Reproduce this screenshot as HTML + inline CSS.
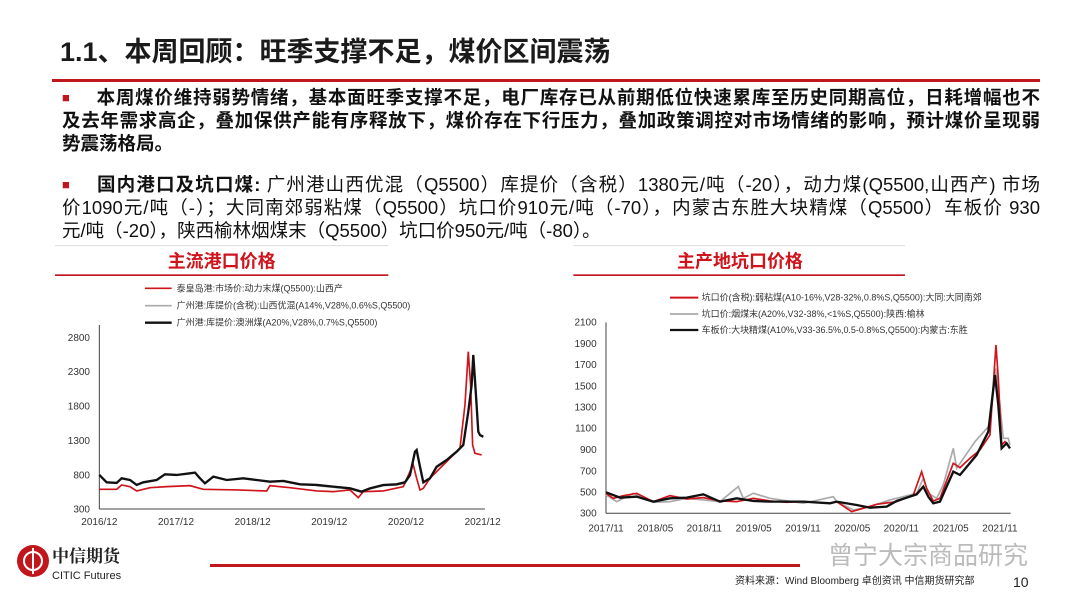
<!DOCTYPE html>
<html><head><meta charset="utf-8"><style>
body{margin:0;width:1080px;height:608px;background:#fff;position:relative;overflow:hidden;font-family:"Liberation Sans","Noto Sans CJK SC",sans-serif;}
.t{position:absolute;left:60px;top:30px;font-size:27px;font-weight:bold;color:#1a1a1a;}
.hl{position:absolute;left:52px;top:79px;width:988px;height:3px;background:#c0171d;}
.l{position:absolute;left:62px;width:978px;font-size:18.5px;line-height:23px;color:#111;white-space:nowrap;text-align:justify;text-align-last:justify;}
.s{text-align-last:left;}
.bd{font-weight:bold;}
.b{color:#c0171d;font-size:13px;margin-right:26px;position:relative;top:-2px;}
</style></head><body>
<div class="t">1.1、本周回顾：旺季支撑不足，煤价区间震荡</div>
<div class="hl"></div>
<div class="l bd" style="top:86px"><span class="b">■</span>本周煤价维持弱势情绪，基本面旺季支撑不足，电厂库存已从前期低位快速累库至历史同期高位，日耗增幅也不</div>
<div class="l bd" style="top:109px">及去年需求高企，叠加保供产能有序释放下，煤价存在下行压力，叠加政策调控对市场情绪的影响，预计煤价呈现弱</div>
<div class="l bd s" style="top:132px">势震荡格局。</div>
<div class="l" style="top:173px"><span class="b">■</span><b>国内港口及坑口煤:</b> 广州港山西优混（Q5500）库提价（含税）1380元/吨（-20），动力煤(Q5500,山西产) 市场</div>
<div class="l" style="top:196px">价1090元/吨（-）；大同南郊弱粘煤（Q5500）坑口价910元/吨（-70），内蒙古东胜大块精煤（Q5500）车板价 930</div>
<div class="l s" style="top:219px">元/吨（-20），陕西榆林烟煤末（Q5500）坑口价950元/吨（-80）。</div>
<svg width="1080" height="608" style="position:absolute;left:0;top:0" font-family="Liberation Sans, Noto Sans CJK SC, sans-serif">
<g transform="translate(50,245) scale(0.3333)">
<line x1="15" y1="2" x2="1015" y2="2" stroke="#ddd" stroke-width="3"/>
<text x="515" y="68" text-anchor="middle" font-size="54" font-weight="bold" fill="#d0141c">主流港口价格</text>
<rect x="15" y="88" width="1000" height="5" fill="#c0171d"/>
<g font-size="27" fill="#333">
<line x1="285" y1="130" x2="365" y2="130" stroke="#d0141c" stroke-width="5"/><text x="380" y="139">泰皇岛港:市场价:动力末煤(Q5500):山西产</text>
<line x1="285" y1="182" x2="365" y2="182" stroke="#aaa" stroke-width="5"/><text x="380" y="191">广州港:库提价(含税):山西优混(A14%,V28%,0.6%S,Q5500)</text>
<line x1="285" y1="233" x2="365" y2="233" stroke="#111" stroke-width="7"/><text x="380" y="242">广州港:库提价:澳洲煤(A20%,V28%,0.7%S,Q5500)</text>
</g>
<line x1="148" y1="240" x2="148" y2="792" stroke="#444" stroke-width="3"/>
<line x1="148" y1="792" x2="1305" y2="792" stroke="#444" stroke-width="3"/>
<g font-size="30" fill="#333" text-anchor="end">
<text x="120" y="288">2800</text><text x="120" y="390">2300</text><text x="120" y="493">1800</text><text x="120" y="597">1300</text><text x="120" y="700">800</text><text x="120" y="802">300</text></g>
<g font-size="30" fill="#333" text-anchor="middle">
<text x="148" y="840">2016/12</text><text x="378" y="840">2017/12</text><text x="608" y="840">2018/12</text><text x="838" y="840">2019/12</text><text x="1068" y="840">2020/12</text><text x="1298" y="840">2021/12</text></g>
<polyline fill="none" stroke="#aaa" stroke-width="5" points="800,722 850,727 900,732 935,742 960,732 1000,722 1040,720 1065,714 1080,693 1095,625 1100,620 1110,668 1120,714 1140,702 1160,668 1190,648 1220,622 1240,602 1255,505 1265,425 1270,340 1278,455 1285,562 1290,572 1300,577"/>
<polyline fill="none" stroke="#d0141c" stroke-width="5" points="148,733 200,733 215,720 240,725 260,738 300,728 350,725 420,722 460,733 560,735 650,738 660,722 720,728 800,738 850,740 900,735 925,758 940,740 1000,738 1060,725 1080,680 1090,660 1100,700 1110,735 1120,730 1140,700 1190,650 1230,610 1245,480 1255,320 1262,420 1268,600 1275,625 1295,630"/>
<polyline fill="none" stroke="#111" stroke-width="7" points="148,690 170,712 200,714 215,700 240,705 260,720 280,712 320,705 345,688 380,690 420,685 435,683 450,700 465,715 490,695 530,705 580,700 620,705 660,710 700,708 750,718 800,720 850,725 900,730 935,740 960,730 1000,720 1040,718 1065,712 1080,690 1095,620 1100,615 1110,665 1120,712 1140,700 1160,665 1190,645 1220,620 1240,600 1255,500 1265,420 1270,330 1278,450 1285,560 1290,570 1300,575"/>
</g>
<g transform="translate(570,245) scale(0.3333)">
<line x1="10" y1="2" x2="1005" y2="2" stroke="#ddd" stroke-width="3"/>
<text x="510" y="68" text-anchor="middle" font-size="54" font-weight="bold" fill="#d0141c">主产地坑口价格</text>
<rect x="10" y="88" width="995" height="5" fill="#c0171d"/>
<g font-size="27" fill="#333">
<line x1="300" y1="158" x2="385" y2="158" stroke="#d0141c" stroke-width="6"/><text x="395" y="167">坑口价(含税):弱粘煤(A10-16%,V28-32%,0.8%S,Q5500):大同:大同南郊</text>
<line x1="300" y1="207" x2="385" y2="207" stroke="#aaa" stroke-width="5"/><text x="395" y="216">坑口价:烟煤末(A20%,V32-38%,&lt;1%S,Q5500):陕西:榆林</text>
<line x1="300" y1="255" x2="385" y2="255" stroke="#111" stroke-width="7"/><text x="395" y="264">车板价:大块精煤(A10%,V33-36.5%,0.5-0.8%S,Q5500):内蒙古:东胜</text>
</g>
<line x1="108" y1="232" x2="108" y2="805" stroke="#444" stroke-width="3"/>
<line x1="108" y1="805" x2="1322" y2="805" stroke="#444" stroke-width="3"/>
<g font-size="30" fill="#333" text-anchor="end">
<text x="80" y="242">2100</text><text x="80" y="306">1900</text><text x="80" y="369">1700</text><text x="80" y="433">1500</text><text x="80" y="497">1300</text><text x="80" y="560">1100</text><text x="80" y="624">900</text><text x="80" y="688">700</text><text x="80" y="751">500</text><text x="80" y="815">300</text></g>
<g font-size="30" fill="#333" text-anchor="middle">
<text x="108" y="860">2017/11</text><text x="256" y="860">2018/05</text><text x="403" y="860">2018/11</text><text x="551" y="860">2019/05</text><text x="699" y="860">2019/11</text><text x="847" y="860">2020/05</text><text x="994" y="860">2020/11</text><text x="1142" y="860">2021/05</text><text x="1290" y="860">2021/11</text></g>
<polyline fill="none" stroke="#aaa" stroke-width="5" points="108,750 140,770 190,745 250,772 300,770 350,760 450,770 480,745 505,725 520,760 550,745 600,760 700,775 790,755 800,770 850,795 900,785 960,765 1040,745 1060,700 1075,745 1100,760 1120,720 1150,610 1160,670 1215,590 1260,540 1277,370 1290,480 1300,580 1315,580 1320,600"/>
<polyline fill="none" stroke="#d0141c" stroke-width="5" points="108,745 130,760 160,752 200,745 250,770 300,752 350,762 400,758 450,768 500,770 550,760 600,768 650,772 700,770 780,775 800,770 845,800 880,790 920,778 980,770 1030,750 1055,680 1070,730 1090,768 1110,760 1150,655 1170,668 1200,640 1230,615 1260,570 1278,300 1285,400 1295,600 1305,590 1320,610"/>
<polyline fill="none" stroke="#111" stroke-width="7" points="108,742 150,758 200,755 250,770 300,760 350,758 400,748 450,770 500,760 550,768 600,770 700,770 780,775 800,770 860,780 900,788 950,785 980,768 1040,748 1060,725 1075,755 1090,775 1110,770 1150,680 1170,690 1220,630 1255,560 1275,390 1285,480 1295,610 1310,595 1320,610"/>
</g>
<circle cx="33" cy="561" r="16" fill="#c0171d"/>
<circle cx="33" cy="561" r="9" fill="none" stroke="#fff" stroke-width="2"/>
<line x1="33" y1="548" x2="33" y2="574" stroke="#fff" stroke-width="2"/>
<text x="52" y="562" font-size="17" font-weight="bold" fill="#222" font-family="Noto Serif CJK SC, serif">中信期货</text>
<text x="52" y="579" font-size="11" fill="#222">CITIC Futures</text>
<rect x="210" y="564" width="590" height="3" fill="#c0171d"/>
<text x="828" y="564" font-size="25" fill="#bbb">曾宁大宗商品研究</text>
<text x="735" y="584" font-size="10" fill="#222">资料来源：Wind Bloomberg 卓创资讯 中信期货研究部</text>
<text x="1013" y="587" font-size="14" fill="#222">10</text>
</svg>
</body></html>
